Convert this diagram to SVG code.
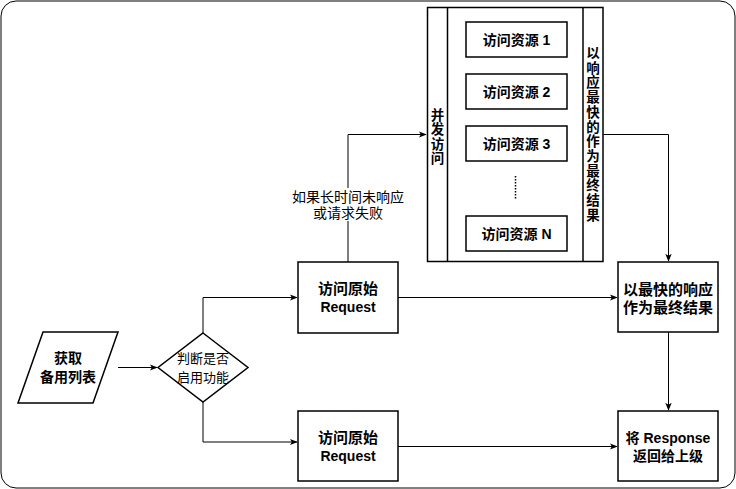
<svg xmlns="http://www.w3.org/2000/svg" width="736" height="489" viewBox="0 0 736 489">
<style>
.box{fill:#fff;stroke:#000;stroke-width:1.5}
.ln{fill:none;stroke:#000;stroke-width:1}
text{font-family:"Liberation Sans","Noto Sans CJK SC",sans-serif;font-size:14px;fill:#000;text-anchor:middle;dominant-baseline:central}
.b{font-weight:bold}
.big{font-size:15px}
.sm{font-size:13px}
.v{font-size:13.5px;font-weight:bold}
</style>
<defs>
<marker id="arr" viewBox="0 0 10 10" refX="9" refY="5" markerWidth="8" markerHeight="8" markerUnits="userSpaceOnUse" orient="auto">
<path d="M0,1 L10,5 L0,9 L2.5,5 Z" fill="#000"/>
</marker>
</defs>
<rect x="1" y="1" width="734" height="487" rx="15" ry="15" fill="#fff" stroke="#000" stroke-width="1"/>

<g id="connectors">
<path class="ln" d="M118,367.5 L157,367.5" marker-end="url(#arr)"/>
<path class="ln" d="M203,333 L203,297.5 L297,297.5" marker-end="url(#arr)"/>
<path class="ln" d="M203,402 L203,442 L297,442" marker-end="url(#arr)"/>
<path class="ln" d="M348,262 L348,134.5 L426,134.5" marker-end="url(#arr)"/>
<path class="ln" d="M398,297.5 L617,297.5" marker-end="url(#arr)"/>
<path class="ln" d="M398,446.5 L617,446.5" marker-end="url(#arr)"/>
<path class="ln" d="M603,134.5 L668.5,134.5 L668.5,261" marker-end="url(#arr)"/>
<path class="ln" d="M668.5,332 L668.5,410" marker-end="url(#arr)"/>
<g id="label-timeout">
<rect x="290" y="188" width="116" height="33" fill="#fff"/>
<text x="348" y="197">如果长时间未响应</text>
<text x="348" y="213">或请求失败</text>
</g>
</g>

<g id="input">
<polygon class="box" points="43,332 118,332 93,403 18,403"/>
<text class="b" x="68" y="358">获取</text>
<text class="b" x="68" y="377">备用列表</text>
</g>

<g id="decision">
<polygon class="box" points="203,333 248,367.5 203,402 158,367.5"/>
<text class="sm" x="203" y="358">判断是否</text>
<text class="sm" x="203" y="377">启用功能</text>
</g>

<g id="request1">
<rect class="box" x="298" y="262" width="100" height="71"/>
<text class="b big" x="348" y="288">访问原始</text>
<text class="b" x="348" y="307">Request</text>
</g>

<g id="request2">
<rect class="box" x="298" y="411" width="100" height="70"/>
<text class="b big" x="348" y="437">访问原始</text>
<text class="b" x="348" y="456">Request</text>
</g>

<g id="concurrent">
<rect class="box" x="427.5" y="7.5" width="175.5" height="254"/>
<line class="ln" x1="447.5" y1="7.5" x2="447.5" y2="261.5" style="stroke-width:1.5"/>
<line class="ln" x1="583" y1="7.5" x2="583" y2="261.5" style="stroke-width:1.5"/>
<text class="v" x="437.5" y="115">并</text>
<text class="v" x="437.5" y="129.5">发</text>
<text class="v" x="437.5" y="144">访</text>
<text class="v" x="437.5" y="158.5">问</text>
<text class="v" x="593" y="53.5">以</text>
<text class="v" x="593" y="68.2">响</text>
<text class="v" x="593" y="82.9">应</text>
<text class="v" x="593" y="97.6">最</text>
<text class="v" x="593" y="112.3">快</text>
<text class="v" x="593" y="127">的</text>
<text class="v" x="593" y="141.7">作</text>
<text class="v" x="593" y="156.4">为</text>
<text class="v" x="593" y="171.1">最</text>
<text class="v" x="593" y="185.8">终</text>
<text class="v" x="593" y="200.5">结</text>
<text class="v" x="593" y="215.2">果</text>
</g>

<g id="res1">
<rect class="box" x="466" y="22" width="101" height="35"/>
<text class="b" x="516.5" y="40">访问资源 1</text>
</g>
<g id="res2">
<rect class="box" x="466" y="74" width="101" height="35"/>
<text class="b" x="516.5" y="92">访问资源 2</text>
</g>
<g id="res3">
<rect class="box" x="466" y="126" width="101" height="35"/>
<text class="b" x="516.5" y="144">访问资源 3</text>
</g>
<g id="dots">
<line x1="515.5" y1="176" x2="515.5" y2="200" stroke="#000" stroke-width="1.5" stroke-dasharray="1.5 1.5"/>
</g>
<g id="resN">
<rect class="box" x="466" y="216" width="101" height="35"/>
<text class="b" x="516.5" y="234">访问资源 N</text>
</g>

<g id="result">
<rect class="box" x="618" y="262" width="100" height="70"/>
<text class="b big" x="668" y="289">以最快的响应</text>
<text class="b big" x="668" y="307">作为最终结果</text>
</g>

<g id="response">
<rect class="box" x="618" y="411" width="100" height="70"/>
<text class="b" x="668" y="438">将 Response</text>
<text class="b" x="668" y="456">返回给上级</text>
</g>
</svg>
